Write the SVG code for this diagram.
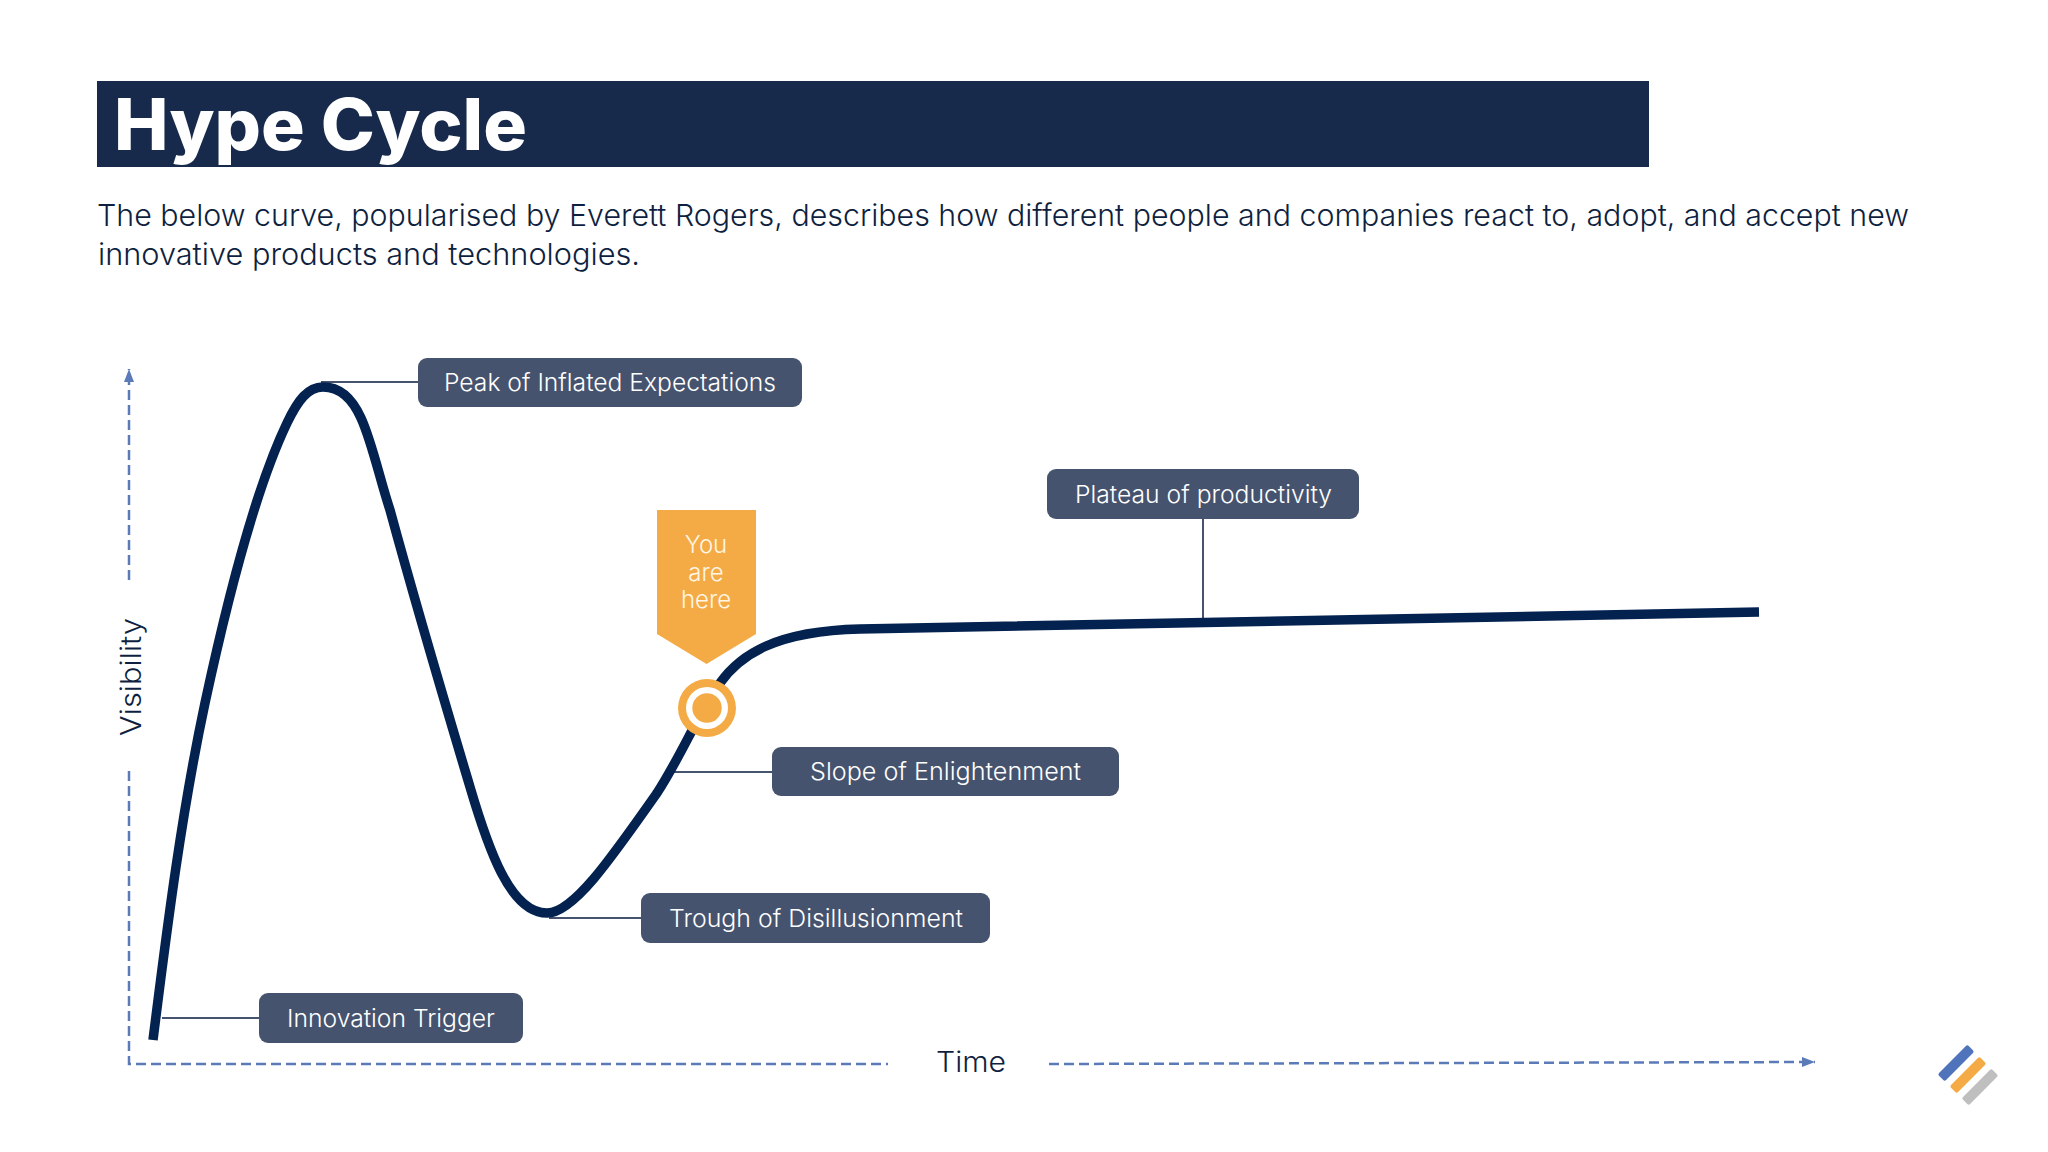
<svg xmlns="http://www.w3.org/2000/svg" width="2048" height="1152" viewBox="0 0 2048 1152">
<defs>
<marker id="arrow" markerUnits="userSpaceOnUse" markerWidth="15" markerHeight="12" refX="13" refY="5.5" orient="auto"><path d="M0 0.500L13 5.500L0 10.500Z" fill="#5b7bb8"/></marker>
</defs>
<style>
text{font-family:"Inter","Open Sans","Liberation Sans",sans-serif}
.box{fill:#46536e}
.lbl{fill:#fff;font-size:24px;font-weight:300}
.lead{fill:none;stroke:#46536e;stroke-width:2}
.axis{fill:none;stroke:#5b7bb8;stroke-width:2.500;stroke-dasharray:10 5}
.body{fill:#0f1f40;font-size:30px;font-weight:300}
.axt{fill:#0f1f40;font-size:28px;font-weight:300}
</style>
<rect width="2048" height="1152" fill="#fff"/>
<g id="header">
<rect x="97" y="81" width="1552" height="86" fill="#172a4b"/>
<text x="114" y="150" font-size="71" font-weight="800" fill="#fff" textLength="413" lengthAdjust="spacingAndGlyphs">Hype Cycle</text>
<text class="body" x="97" y="226" textLength="1812" lengthAdjust="spacingAndGlyphs">The below curve, popularised by Everett Rogers, describes how different people and companies react to, adopt, and accept new</text>
<text class="body" x="98" y="265" textLength="542" lengthAdjust="spacingAndGlyphs">innovative products and technologies.</text>
</g>
<g id="connectors">
<path class="lead" d="M321 382H418"/>
<path class="lead" d="M1203 519V619"/>
<path class="lead" d="M672 772H772"/>
<path class="lead" d="M549 918H641"/>
<path class="lead" d="M162 1018H259"/>
<path class="axis" d="M129 580V369" marker-end="url(#arrow)"/>
<path class="axis" d="M129 771V1064H888"/>
<path class="axis" d="M1049 1064L1815 1062" marker-end="url(#arrow)"/>
</g>
<g id="curve">
<path fill="none" stroke="#04224f" stroke-width="9.500" d="M153 1040C165 945 180 820 205 703C225 610 255 490 287 423C298 400 308 387 323 387C340 387 352 398 361 418C372 442 380 480 390 510C420 620 450 720 470 787C488 848 510 913 547 913C573 913 610 860 657 793C680 758 698 714 720 683C740 655 775 631 860 629L1759 612"/>
</g>
<g id="peak"><rect class="box" x="418" y="358" width="384" height="49" rx="9"/><text class="lbl" x="444" y="391" textLength="332" lengthAdjust="spacingAndGlyphs">Peak of Inflated Expectations</text></g>
<g id="plateau"><rect class="box" x="1047" y="469" width="312" height="50" rx="9"/><text class="lbl" x="1075" y="503" textLength="257" lengthAdjust="spacingAndGlyphs">Plateau of productivity</text></g>
<g id="slope"><rect class="box" x="772" y="747" width="347" height="49" rx="9"/><text class="lbl" x="810" y="780" textLength="271" lengthAdjust="spacingAndGlyphs">Slope of Enlightenment</text></g>
<g id="trough"><rect class="box" x="641" y="893" width="349" height="50" rx="9"/><text class="lbl" x="669" y="927" textLength="294" lengthAdjust="spacingAndGlyphs">Trough of Disillusionment</text></g>
<g id="innovation"><rect class="box" x="259" y="993" width="264" height="50" rx="9"/><text class="lbl" x="287" y="1027" textLength="208" lengthAdjust="spacingAndGlyphs">Innovation Trigger</text></g>
<g id="marker">
<path d="M657 510H756V634L706.500 664L657 634Z" fill="#f4ab45"/>
<g fill="#fff6e6" font-size="24" font-weight="300" text-anchor="middle">
<text x="706" y="553">You</text>
<text x="706" y="581">are</text>
<text x="706" y="608">here</text>
</g>
<circle cx="707" cy="708" r="29" fill="#f4ab45"/>
<circle cx="707" cy="708" r="21" fill="#fff"/>
<circle cx="707" cy="708" r="14.700" fill="#f4ab45"/>
</g>
<g id="axis-labels">
<text class="axt" transform="translate(141 677) rotate(-90)" text-anchor="middle" textLength="118" lengthAdjust="spacingAndGlyphs">Visibility</text>
<text class="axt" x="936" y="1072" textLength="70" lengthAdjust="spacingAndGlyphs">Time</text>
</g>
<g id="logo">
<rect x="1935" y="1058" width="42" height="10" rx="2" fill="#4f74bb" transform="rotate(-45 1956 1063)"/>
<rect x="1947" y="1070" width="42" height="10" rx="2" fill="#f4ab45" transform="rotate(-45 1968 1075)"/>
<rect x="1959" y="1082" width="42" height="10" rx="2" fill="#bfbfbf" transform="rotate(-45 1980 1087)"/>
</g>
</svg>
